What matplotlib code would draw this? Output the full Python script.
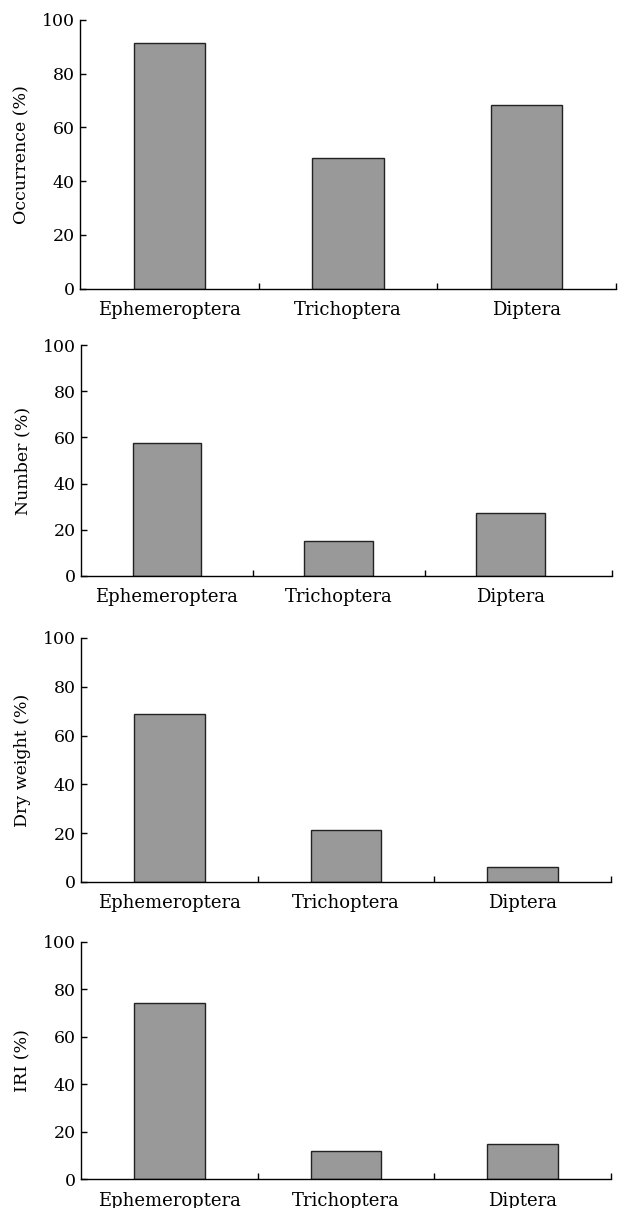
import matplotlib
matplotlib.use("Agg")
import matplotlib.pyplot as plt
import numpy as np

categories = ["Ephemeroptera", "Trichoptera", "Diptera"]
occurrence = [91.4, 48.8, 68.4]
number = [57.5, 15.0, 27.3]
dry_weight = [68.9, 21.5, 6.3]
iri = [74.3, 11.7, 14.9]
ylabels = ["Occurrence (%)", "Number (%)", "Dry weight (%)", "IRI (%)"]
yticks = [0, 20, 40, 60, 80, 100]

plt.rcParams['font.family'] = ['DejaVu Serif']

W, H = 618, 1208
fig = plt.figure(figsize=(W / 100, H / 100), dpi=100)

# (left px, right px, top px(100), bottom px(0), xmax)
panels = [
    (80, 616, 20, 288.7, 2.5),
    (81, 612, 345, 576, 2.59),
    (81, 611, 638, 882, 2.5),
    (81, 611, 942, 1179, 2.5),
]
series = [occurrence, number, dry_weight, iri]

for (l, r, t, b, xmax), vals, lab in zip(panels, series, ylabels):
    ax = fig.add_axes([l / W, 1 - b / H, (r - l) / W, (b - t) / H])
    x = np.arange(len(categories))
    ax.bar(x, vals, width=0.4, color="#999999", edgecolor="#222222", linewidth=1.0)
    ax.set_xlim(-0.5, xmax)
    ax.set_ylim(0, 100)
    ax.set_yticks(yticks)
    ax.set_xticks(x)
    ax.set_xticklabels(categories, fontsize=13)
    ax.set_xticks([0.5, 1.5, xmax], minor=True)
    ax.tick_params(axis='x', which='major', length=0, pad=9)
    ax.tick_params(axis='x', which='minor', direction='in', length=4, width=1)
    ax.tick_params(axis='y', direction='in', length=4, width=1, labelsize=12.5, pad=4)
    ax.set_ylabel(lab, fontsize=12.5, labelpad=8)
    for s in ['top', 'right']:
        ax.spines[s].set_visible(False)
    for s in ['left', 'bottom']:
        ax.spines[s].set_linewidth(1.0)

fig.savefig("out.png", dpi=100)
